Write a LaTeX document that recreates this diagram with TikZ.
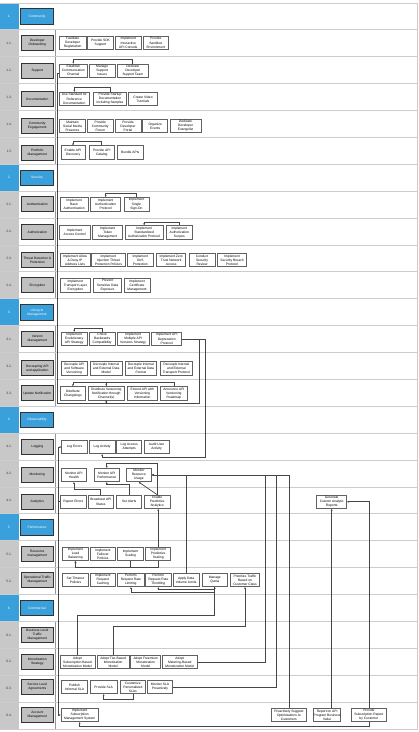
\documentclass[tikz,border=0pt]{standalone}
\usepackage{fontspec}
\setmainfont{Liberation Sans}
\usetikzlibrary{arrows.meta}
\definecolor{hblue}{RGB}{58,160,220}
\definecolor{ngrey}{RGB}{200,200,200}
\definecolor{cgrey}{RGB}{192,192,192}
\definecolor{gridc}{RGB}{205,205,205}
\definecolor{colc}{RGB}{150,150,150}
\definecolor{edgec}{RGB}{70,70,70}
\newcommand\bx[5]{\node[cbox, minimum width={(#3-#2)*1pt}, minimum height=13.6pt] (#1) at ({(#2+#3)/2},#4) {#5};}
\newcommand\hrow[3]{%
  \fill[hblue] (0,{3+26.89*#1}) rectangle (18.5,{3+26.89*(#1+1)});
  \node[hnum] (n#1) at (9.2,{3+26.89*(#1+0.5)}) {#2};
  \node[hcat] (c#1) at (37,{3+26.89*(#1+0.5)}) {#3};
}
\newcommand\srow[4]{%
  \fill[ngrey] (0,{3+26.89*#1}) rectangle (18.5,{3+26.89*(#1+1)});
  \draw[colc, line width=0.7pt] (55.2,{3+26.89*#1}) -- (55.2,{3+26.89*(#1+1)});
  \node[num] (n#1) at (9.2,{3+26.89*(#1+0.5)}) {#2};
  \node[catbox] (c#1) at (37.3,#4) {#3};
}
\begin{document}
\begin{tikzpicture}[x=1pt,y=-1pt,
  font=\fontsize{3.3}{4.1}\selectfont,
  cbox/.style={draw=black!62, line width=0.65pt, fill=white, align=center, inner sep=0pt},
  catbox/.style={draw=black!80, line width=0.8pt, fill=cgrey, align=center, inner sep=0pt, minimum width=32.6pt, minimum height=15pt},
  hcat/.style={draw=black!80, line width=0.8pt, fill=hblue, text=white, align=center, inner sep=0pt, minimum width=32.6pt, minimum height=15.5pt},
  num/.style={text=black!80, inner sep=0pt},
  hnum/.style={text=white, inner sep=0pt},
  arr/.style={draw=edgec, line width=0.7pt, -{Stealth[length=2pt,width=1.8pt]}},
]
\useasboundingbox (0,0) rectangle (419,732);
\fill[white] (0,0) rectangle (419,732);
% rows
\hrow{0}{1.}{Community}
\srow{1}{1.1.}{Developer\\Onboarding}{42.9}
\srow{2}{1.2.}{Support}{70.7}
\srow{3}{1.3.}{Documentation}{98.9}
\srow{4}{1.4.}{Community\\Engagement}{126}
\srow{5}{1.5}{Portfolio\\Management}{152.5}
\hrow{6}{2.}{Security}
\srow{7}{2.1.}{Authentication}{204.2}
\srow{8}{2.2.}{Authorization}{232.3}
\srow{9}{2.3.}{Threat Detection \&\\Protection}{260}
\srow{10}{2.4.}{Encryption}{285.3}
\hrow{11}{3.}{Lifecycle\\Management}
\srow{12}{3.1.}{Version\\Management}{338.9}
\srow{13}{3.2.}{Decoupling API\\and application}{368.3}
\srow{14}{3.3.}{Update Notification}{393.3}
\hrow{15}{4.}{Observability}
\srow{16}{4.1.}{Logging}{447}
\srow{17}{4.2.}{Monitoring}{475}
\srow{18}{4.3.}{Analytics}{501.8}
\hrow{19}{5.}{Performance}
\srow{20}{5.1.}{Resource\\management}{554}
\srow{21}{5.2.}{Operational Traffic\\Management}{580}
\hrow{22}{6.}{Commercial}
\srow{23}{6.1.}{Business Level\\Traffic\\Management}{634.9}
\srow{24}{6.2.}{Monetization\\Strategy}{662}
\srow{25}{6.3.}{Service Level\\Agreements}{687}
\srow{26}{6.4.}{Account\\Management}{715}
% grid
\foreach \i in {0,...,27} {\draw[gridc, line width=0.9pt] (0,{3+26.89*\i}) -- (417.8,{3+26.89*\i});}
\draw[gridc, line width=0.9pt] (417.8,3) -- (417.8,729);
% boxes 1.1
\bx{fdr}{59.3}{86}{42.9}{Facilitate\\Developer\\Registration}
\bx{sdk}{87.7}{113.3}{42.9}{Provide SDK\\Support}
\bx{iac}{115.7}{141}{42.9}{Implement\\Interactive\\API Console}
\bx{sbx}{143.3}{168.3}{42.9}{Provide\\Sandbox\\Environment}
% 1.2
\bx{ecc}{59.3}{87.3}{70.7}{Establish\\Communication\\Channel}
\bx{msi}{89.3}{115}{70.7}{Manage\\Support\\Issues}
\bx{dds}{117.3}{148.3}{70.7}{Dedicate\\Developer\\Support Team}
% 1.3
\bx{usr}{59.3}{89.3}{98.9}{Use Standard for\\Reference\\Documentation}
\bx{psd}{93.3}{126.7}{98.9}{Provide Startup\\Documentation\\including Samples}
\bx{cvt}{128.3}{157.7}{98.9}{Create Video\\Tutorials}
% 1.4
\bx{smp}{59.3}{85.7}{126}{Maintain\\Social Media\\Presence}
\bx{cfo}{87.3}{113.3}{126}{Provide\\Community\\Forum}
\bx{dpo}{115}{141}{126}{Provide\\Developer\\Portal}
\bx{oev}{142.7}{167.7}{126}{Organize\\Events}
\bx{dev}{170}{201}{126}{Dedicate\\Developer\\Evangelist}
% 1.5
\bx{ead}{61}{85}{152.5}{Enable API\\Discovery}
\bx{pac}{89.3}{114.3}{152.5}{Provide API\\Catalog}
\bx{bap}{117.3}{143.3}{152.5}{Bundle APIs}
% 2.1
\bx{iba}{60}{88.3}{204.2}{Implement\\Basic\\Authentication}
\bx{iap}{90.7}{120.7}{204.2}{Implement\\Authentication\\Protocol}
\bx{sso}{124}{149}{204.2}{Implement\\Single\\Sign-On}
% 2.2
\bx{iacc}{59.3}{90}{232.3}{Implement\\Access Control}
\bx{itm}{92.7}{122.7}{232.3}{Implement\\Token\\Management}
\bx{isap}{125}{163.3}{232.3}{Implement\\Standardized\\Authorization Protocol}
\bx{ias}{166}{192.7}{232.3}{Implement\\Authorization\\Scopes}
% 2.3
\bx{iip}{60}{90}{260}{Implement Allow\\\& Deny IP\\Address Lists}
\bx{ijt}{91.7}{125}{260}{Implement\\Injection Threat\\Protection Policies}
\bx{ido}{127.3}{153.3}{260}{Implement\\DoS\\Protection}
\bx{izt}{156.7}{185.7}{260}{Implement Zero\\Trust Network\\Access}
\bx{csr}{189}{215}{260}{Conduct\\Security\\Review}
\bx{isb}{217.3}{246.7}{260}{Implement\\Security Breach\\Protocol}
% 2.4
\bx{itl}{60}{90.7}{285.3}{Implement\\Transport Layer\\Encryption}
\bx{psde}{93.3}{121.7}{285.3}{Prevent\\Sensitive Data\\Exposure}
\bx{icm}{124}{150}{285.3}{Implement\\Certificate\\Management}
% 3.1
\bx{ieas}{61}{87.3}{338.9}{Implement\\Evolutionary\\API Strategy}
\bx{cbc}{89.3}{115}{338.9}{Check\\Backwards\\Compatibility}
\bx{imvs}{117.3}{149}{338.9}{Implement\\Multiple API\\Versions Strategy}
\bx{iadp}{151.7}{181.7}{338.9}{Implement API\\Deprecation\\Protocol}
% 3.2
\bx{dasv}{61}{87.3}{368.3}{Decouple API\\and Software\\Versioning}
\bx{didm}{90}{122.3}{368.3}{Decouple Internal\\and External Data\\Model}
\bx{didf}{125}{156.7}{368.3}{Decouple Internal\\and External Data\\Format}
\bx{ditp}{160}{192.7}{368.3}{Decouple Internal\\and External\\Transport Protocol}
% 3.3
\bx{dcl}{60}{85.7}{393.3}{Distribute\\Changelogs}
\bx{dvn}{88.3}{124.3}{393.3}{Distribute Versioning\\Notification through\\Channel(s)}
\bx{eavi}{127.3}{157.3}{393.3}{Extend API with\\Versioning\\Information}
\bx{aavr}{160}{187.7}{393.3}{Announce API\\Versioning\\Roadmap}
% 4.1
\bx{ler}{61.7}{87.3}{447}{Log Errors}
\bx{lac}{89.3}{115}{447}{Log Activity}
\bx{laa}{116.7}{141.7}{447}{Log Access\\Attempts}
\bx{aua}{144}{169.3}{447}{Audit User\\Activity}
% 4.2
\bx{mah}{61}{86.7}{475}{Monitor API\\Health}
\bx{map}{94.3}{119.3}{475}{Monitor API\\Performance}
\bx{mru}{126}{151.7}{475}{Monitor\\Resource\\Usage}
% 4.3
\bx{rer}{60}{86.7}{501.8}{Report Errors}
\bx{bas}{88.3}{113.3}{501.8}{Broadcast API\\Status}
\bx{sal}{116.7}{141.7}{501.8}{Set Alerts}
\bx{epa}{144.3}{170}{501.8}{Enable\\Predictive\\Analytics}
\bx{gcar}{316.7}{346.7}{501.8}{Generate\\Custom Analytic\\Reports}
% 5.1
\bx{ilb}{62.7}{88.3}{554}{Implement\\Load\\Balancing}
\bx{ifp}{90}{115.7}{554}{Implement\\Failover\\Policies}
\bx{isc}{117.7}{143.3}{554}{Implement\\Scaling}
\bx{ips}{145.7}{170.7}{554}{Implement\\Predictive\\Scaling}
% 5.2
\bx{stp}{62.7}{88.3}{580}{Set Timeout\\Policies}
\bx{irc}{90}{115.7}{580}{Implement\\Request\\Caching}
\bx{prl}{117.7}{144}{580}{Perform\\Request Rate\\Limiting}
\bx{prt}{145.7}{171}{580}{Perform\\Request Rate\\Throttling}
\bx{adv}{173.3}{199}{580}{Apply Data\\Volume Limits}
\bx{mqu}{202.3}{227.3}{580}{Manage\\Quota}
\bx{ptc}{230.7}{259.3}{580}{Prioritize Traffic\\Based on\\Customer Class}
% 6.2
\bx{asb}{60}{95}{662}{Adopt\\Subscription-Based\\Monetization Model}
\bx{atb}{97.3}{129}{662}{Adopt Tier-Based\\Monetization\\Model}
\bx{afm}{130.7}{160.7}{662}{Adopt Freemium\\Monetization\\Model}
\bx{amb}{162.3}{197.3}{662}{Adopt\\Metering-Based\\Monetization Model}
% 6.3
\bx{pisla}{61.7}{87.3}{687}{Publish\\Informal SLA}
\bx{psla}{90}{117.3}{687}{Provide SLA}
\bx{cpsla}{120}{145.7}{687}{Customize\\Personalized\\SLAs}
\bx{msla}{147.7}{172.3}{687}{Monitor SLA\\Proactively}
% 6.4
\bx{isms}{61}{98.3}{715}{Implement\\Subscription\\Management System}
\bx{pso}{271.7}{306}{715}{Proactively Suggest\\Optimizations to\\Customers}
\bx{rapv}{314.3}{340}{715}{Report on API\\Program Business\\Value}
\bx{psr}{351.7}{386}{715}{Provide\\Subscription Report\\by Customer}
% connectors
\draw[arr] (dds.north) -- ++(0,-4.7) -| (ecc.north);
\draw[arr] (psd.north) -- ++(0,-4.4) -| (usr.north);
\draw[arr] (pac.north) -- ++(0,-4) -| (ead.north);
\draw[arr] (sso.north) -- ++(0,-4) -| (iap.north);
\draw[arr] (ias.north) -- ++(0,-3.3) -| (isap.north);
\draw[arr] (cbc.north) -- ++(0,-3.4) -| (ieas.north);
\draw[arr] (aavr.north) -- ++(0,-4) -| (dcl.north);
\draw[arr] (aavr.north) -- ++(0,-4) -| (dvn.north);
\draw[arr] (iadp.east) -| (199,403.3) -| (dvn.south);
\draw[arr] (iadp.east) -| (205.7,457.7) -| (lac.south);
\draw[arr] ([yshift=-3pt]ecc.west) -| (56.9,403.3) -| (dvn.south);
\draw[arr] (rer.west) -| (58.4,447) -- (ler.west);
\draw[arr] (rer.west) -| (58.4,715) -- (isms.west);
\draw[arr] (epa.north) -- ++(0,-31.7) -| (map.north);
\draw[arr] (epa.north) -- (mru.south);
\draw[arr] (bas.north) -- ++(0,-5) -| (mah.south);
\draw[arr] (sal.north) -- ++(0,-10) -| (map.south);
\draw[arr] (adv.north) |- (mru.east);
\draw[arr] (amb.east) -| (265,475) -- (mru.east);
\draw[arr] (msla.east) -| (276.7,475) -- (mru.east);
\draw[arr] (pso.north) |- (mru.east);
\draw[arr] (ips.north) -- (ips.north |- epa.south);
\draw[arr] (isc.south) -- ++(0,6) -| (ilb.south);
\draw[arr] (ips.south) -- ++(0,6) -| (ilb.south);
\draw[arr] (mqu.south) -- ++(0,5) -| (prl.south);
\draw[arr] (mqu.south) -- ++(0,2.4) -| (prt.south);
\draw[arr] (asb.north) |- (mqu.south |- 0,615) -- (mqu.south);
\draw[arr] (atb.north) |- (ptc.south |- 0,626.7) -- (ptc.south);
\draw[arr] (cpsla.south) -- ++(0,5.7) -| (psla.south);
\draw[arr] (psr.south) -- ++(0,4.3) -| (isms.south);
\draw[arr] (psr.north) |- (gcar.east);
\draw[arr] (rapv.north -| gcar.south) -- (gcar.south);
\end{tikzpicture}
\end{document}
